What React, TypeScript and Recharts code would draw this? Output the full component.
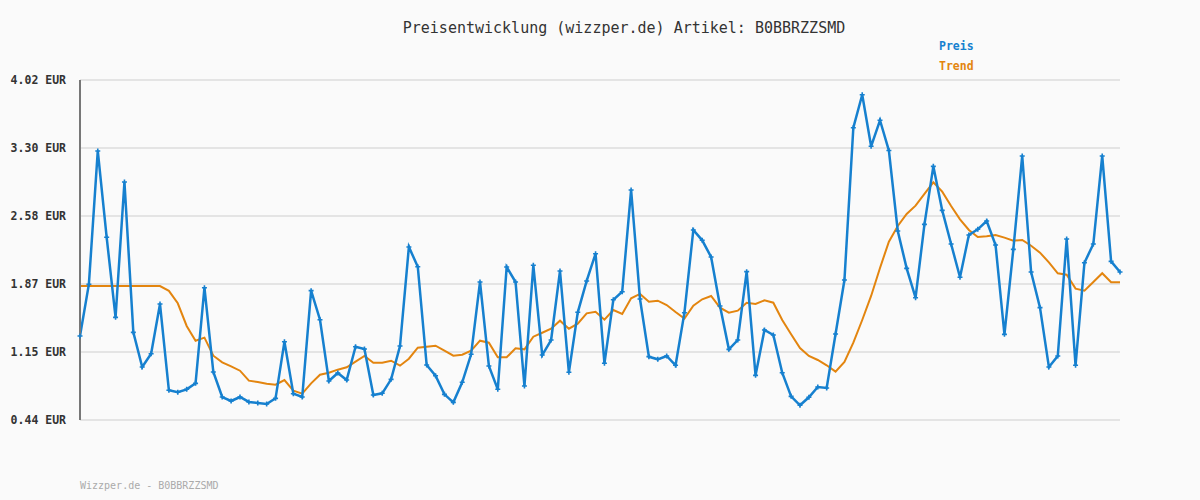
import { LineChart, Line, XAxis, YAxis, CartesianGrid } from "recharts";

const preis = [
  1.325, 1.87, 3.273, 2.364, 1.521, 2.946, 1.363, 0.998, 1.138, 1.661,
  0.753, 0.732, 0.763, 0.826, 1.833, 0.945, 0.682, 0.64, 0.682, 0.63,
  0.619, 0.608, 0.668, 1.264, 0.717, 0.682, 1.802, 1.496, 0.851, 0.935,
  0.861, 1.212, 1.188, 0.703, 0.721, 0.868, 1.219, 2.262, 2.054, 1.019,
  0.906, 0.71, 0.626, 0.837, 1.132, 1.893, 1.009, 0.763, 2.051, 1.893,
  0.798, 2.069, 1.124, 1.282, 2.009, 0.942, 1.574, 1.904, 2.191, 1.037,
  1.706, 1.791, 2.862, 1.714, 1.107, 1.079, 1.114, 1.016, 1.57, 2.441,
  2.332, 2.156, 1.64, 1.184, 1.282, 2.002, 0.91, 1.388, 1.335, 0.938,
  0.689, 0.595, 0.679, 0.787, 0.777, 1.346, 1.914, 3.518, 3.865, 3.322,
  3.596, 3.277, 2.43, 2.037, 1.728, 2.5, 3.111, 2.647, 2.293, 1.943,
  2.388, 2.448, 2.535, 2.283, 1.342, 2.237, 3.22, 1.998, 1.623, 0.998,
  1.114, 2.346, 1.016, 2.096, 2.293, 3.22, 2.11, 1.998,
];

const trend = [
  1.85, 1.85, 1.85, 1.85, 1.85, 1.85, 1.85, 1.85, 1.85, 1.85,
  1.8, 1.669, 1.43, 1.275, 1.307, 1.117, 1.047, 1.005, 0.959, 0.854,
  0.84, 0.822, 0.812, 0.861, 0.749, 0.717, 0.826, 0.917, 0.938, 0.97,
  0.995, 1.054, 1.114, 1.043, 1.043, 1.064, 1.012, 1.085, 1.201, 1.212,
  1.222, 1.17, 1.117, 1.128, 1.17, 1.275, 1.254, 1.1, 1.1, 1.195,
  1.184, 1.317, 1.359, 1.401, 1.486, 1.401, 1.454, 1.563, 1.58, 1.496,
  1.598, 1.556, 1.721, 1.767, 1.686, 1.696, 1.651, 1.577, 1.507, 1.644,
  1.711, 1.746, 1.623, 1.57, 1.591, 1.675, 1.661, 1.7, 1.675, 1.493,
  1.342, 1.198, 1.114, 1.072, 1.016, 0.949, 1.051, 1.254, 1.493, 1.746,
  2.041, 2.318, 2.483, 2.609, 2.697, 2.82, 2.943, 2.844, 2.693, 2.553,
  2.441, 2.367, 2.374, 2.388, 2.36, 2.328, 2.335, 2.275, 2.202, 2.1,
  1.985, 1.97, 1.823, 1.802, 1.893, 1.985, 1.89, 1.89,
];

const yTicks = [0.44, 1.156, 1.872, 2.588, 3.304, 4.02];
const yTickLabels = ["0.44 EUR", "1.15 EUR", "1.87 EUR", "2.58 EUR", "3.30 EUR", "4.02 EUR"];

const data = preis.map((p, i) => ({ idx: i, preis: p, trend: trend[i] }));

const mono = "'DejaVu Sans Mono', 'Liberation Mono', monospace";
const BLUE = "#1680cf";
const ORANGE = "#e3850f";

function YTick({ y, index }: any) {
  return (
    <text
      x={66}
      y={y}
      textAnchor="end"
      dominantBaseline="central"
      fontFamily={mono}
      fontSize={11.5}
      fontWeight="bold"
      fill="#333"
    >
      {yTickLabels[index]}
    </text>
  );
}

function PlusDot({ cx, cy }: any) {
  if (cx == null || cy == null) return null;
  return (
    <path
      d={`M${cx - 2.5},${cy}H${cx + 2.5}M${cx},${cy - 2.5}V${cy + 2.5}`}
      stroke={BLUE}
      strokeWidth={1.6}
    />
  );
}

export default function App() {
  return (
    <div
      style={{
        position: "absolute",
        left: 0,
        top: 0,
        width: 1200,
        height: 500,
        background: "#fafafa",
        fontFamily: mono,
      }}
    >
      <div
        style={{
          position: "absolute",
          left: 0,
          width: 1248,
          top: 19,
          textAlign: "center",
          fontSize: 15,
          color: "#333",
          whiteSpace: "nowrap",
        }}
      >
        Preisentwicklung (wizzper.de) Artikel: B0BBRZZSMD
      </div>
      <div style={{ position: "absolute", left: 939, top: 39, fontSize: 11.5, fontWeight: "bold", color: BLUE }}>
        Preis
      </div>
      <div style={{ position: "absolute", left: 939, top: 59, fontSize: 11.5, fontWeight: "bold", color: ORANGE }}>
        Trend
      </div>
      <div style={{ position: "absolute", left: 80, top: 480, fontSize: 10, color: "#aaa" }}>
        Wizzper.de - B0BBRZZSMD
      </div>
      <LineChart
        width={1200}
        height={500}
        data={data}
        margin={{ top: 80, right: 80, bottom: 80, left: 0 }}
        style={{ position: "absolute", left: 0, top: 0 }}
      >
        <CartesianGrid vertical={false} stroke="#e4e4e4" strokeWidth={2} />
        <XAxis dataKey="idx" tick={false} tickLine={false} height={0} axisLine={{ stroke: "#777", strokeWidth: 2 }} />
        <YAxis
          width={80}
          domain={[0.44, 4.02]}
          ticks={yTicks}
          tick={<YTick />}
          tickLine={false}
          axisLine={{ stroke: "#777", strokeWidth: 2 }}
        />
        <Line
          type="linear"
          dataKey="trend"
          stroke={ORANGE}
          strokeWidth={2}
          dot={false}
          isAnimationActive={false}
        />
        <Line
          type="linear"
          dataKey="preis"
          stroke={BLUE}
          strokeWidth={2.5}
          dot={<PlusDot />}
          activeDot={false}
          isAnimationActive={false}
        />
      </LineChart>
    </div>
  );
}
